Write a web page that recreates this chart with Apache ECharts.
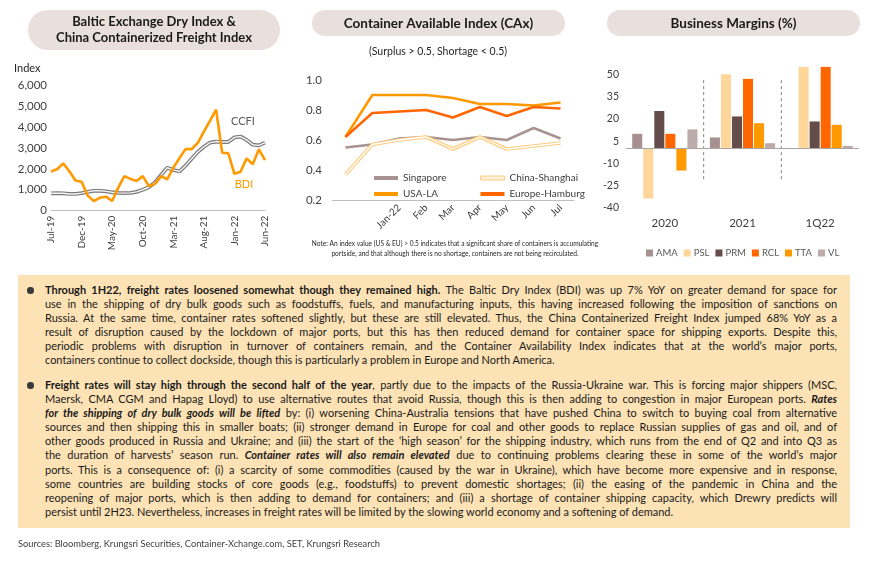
<!DOCTYPE html>
<html><head><meta charset="utf-8">
<script src="https://cdn.jsdelivr.net/npm/echarts@6/dist/echarts.min.js"></script>
<style>
html,body{margin:0;padding:0;background:#fff;}
#chart{position:absolute;left:0;top:0;width:870px;height:562px;}
#box{position:absolute;left:18px;top:275px;width:832px;height:253px;background:#FDE2B5;font-family:Lato,sans-serif;color:#1a1a1a;}
.para{position:absolute;left:27px;width:792px;}
.ln{height:14.1px;line-height:14.1px;white-space:nowrap;font-size:11px;}
.ln.j{text-align:justify;text-align-last:justify;}
.dot{position:absolute;left:-18px;top:4.3px;width:6.5px;height:6.5px;border-radius:50%;background:#3a3a3a;}
#src{position:absolute;left:18px;top:538px;font-family:Lato,sans-serif;font-size:9.3px;line-height:12px;color:#404040;white-space:nowrap;}
</style></head>
<body>
<div id="chart"></div>
<div id="box">
 <div class="para" style="top:8px;">
  <div class="dot"></div>
  <div class="ln j"><span><b>Through 1H22, freight rates loosened somewhat though they remained high.</b> The Baltic Dry Index (BDI) was up 7% YoY on greater demand for space for</span></div>
  <div class="ln j"><span>use in the shipping of dry bulk goods such as foodstuffs, fuels, and manufacturing inputs, this having increased following the imposition of sanctions on</span></div>
  <div class="ln j"><span>Russia. At the same time, container rates softened slightly, but these are still elevated. Thus, the China Containerized Freight Index jumped 68% YoY as a</span></div>
  <div class="ln j"><span>result of disruption caused by the lockdown of major ports, but this has then reduced demand for container space for shipping exports. Despite this,</span></div>
  <div class="ln j"><span>periodic problems with disruption in turnover of containers remain, and the Container Availability Index indicates that at the world’s major ports,</span></div>
  <div class="ln"><span>containers continue to collect dockside, though this is particularly a problem in Europe and North America.</span></div>
 </div>
 <div class="para" style="top:103px;">
  <div class="dot"></div>
  <div class="ln j"><span><b>Freight rates will stay high through the second half of the year</b>, partly due to the impacts of the Russia-Ukraine war. This is forcing major shippers (MSC,</span></div>
  <div class="ln j"><span>Maersk, CMA CGM and Hapag Lloyd) to use alternative routes that avoid Russia, though this is then adding to congestion in major European ports. <b><i>Rates</i></b></span></div>
  <div class="ln j"><span><b><i>for the shipping of dry bulk goods will be lifted</i></b> by: (i) worsening China-Australia tensions that have pushed China to switch to buying coal from alternative</span></div>
  <div class="ln j"><span>sources and then shipping this in smaller boats; (ii) stronger demand in Europe for coal and other goods to replace Russian supplies of gas and oil, and of</span></div>
  <div class="ln j"><span>other goods produced in Russia and Ukraine; and (iii) the start of the ‘high season’ for the shipping industry, which runs from the end of Q2 and into Q3 as</span></div>
  <div class="ln j"><span>the duration of harvests’ season run. <b><i>Container rates will also remain elevated</i></b> due to continuing problems clearing these in some of the world’s major</span></div>
  <div class="ln j"><span>ports. This is a consequence of: (i) a scarcity of some commodities (caused by the war in Ukraine), which have become more expensive and in response,</span></div>
  <div class="ln j"><span>some countries are building stocks of core goods (e.g., foodstuffs) to prevent domestic shortages; (ii) the easing of the pandemic in China and the</span></div>
  <div class="ln j"><span>reopening of major ports, which is then adding to demand for containers; and (iii) a shortage of container shipping capacity, which Drewry predicts will</span></div>
  <div class="ln"><span>persist until 2H23. Nevertheless, increases in freight rates will be limited by the slowing world economy and a softening of demand.</span></div>
 </div>
</div>
<div id="src">Sources: Bloomberg, Krungsri Securities, Container-Xchange.com, SET, Krungsri Research</div>
<script>
// ---- Data: Baltic Dry Index & CCFI ----
const months = ['Jul-19','Aug-19','Sep-19','Oct-19','Nov-19','Dec-19','Jan-20','Feb-20','Mar-20','Apr-20','May-20','Jun-20',
  'Jul-20','Aug-20','Sep-20','Oct-20','Nov-20','Dec-20','Jan-21','Feb-21','Mar-21','Apr-21','May-21','Jun-21',
  'Jul-21','Aug-21','Sep-21','Oct-21','Nov-21','Dec-21','Jan-22','Feb-22','Mar-22','Apr-22','May-22','Jun-22'];
const bdiValues = [1870,1980,2260,1880,1440,1380,720,460,620,670,460,1100,1650,1520,1420,1650,1180,1280,1650,1500,2050,2500,2940,2940,3230,3770,4290,4820,2770,2740,1760,1860,2500,2220,2930,2410];
const ccfiValues = [830,840,830,800,800,840,900,950,950,920,880,850,840,850,900,1000,1120,1350,1700,2050,1950,1870,2150,2480,2800,3050,3250,3300,3280,3280,3500,3540,3380,3150,3120,3250];
const leftTicks = [0,1000,2000,3000,4000,5000,6000];

// ---- Data: Container Availability Index ----
const caxMonths = ['Nov-21','Dec-21','Jan-22','Feb','Mar','Apr','May','Jun','Jul'];
const singapore = [0.55,0.57,0.61,0.62,0.60,0.62,0.60,0.68,0.61];
const chinaShanghai = [0.37,0.57,0.60,0.62,0.54,0.62,0.54,0.56,0.58];
const usaLA = [0.62,0.90,0.90,0.90,0.88,0.84,0.84,0.83,0.85];
const europeHamburg = [0.62,0.78,0.79,0.80,0.75,0.82,0.76,0.82,0.81];
const caxTicks = [0.2,0.4,0.6,0.8,1.0];

// ---- Data: Business margins (%) ----
const marginCats = ['2020','2021','1Q22'];
const companies = ['AMA','PSL','PRM','RCL','TTA','VL'];
const ama = [10,7.5,null];
const psl = [-34,50.5,55.5];
const prm = [25.5,21.8,18.4];
const rcl = [10,47.4,55.5];
const tta = [-15,17.2,16.1];
const vl = [13,3.6,1.8];
const marginTicks = [-40,-25,-10,5,20,35,50];

// ---- fit body text lines ----
(function(){
  let maxW = 0;
  document.querySelectorAll('.ln.j span').forEach(s=>{ maxW = Math.max(maxW, s.getBoundingClientRect().width); });
  const fs = 11 * Math.min(1.06, 790 / maxW);
  document.querySelectorAll('.ln').forEach(l=>{ l.style.fontSize = fs.toFixed(2)+'px'; });
})();

const FONT = 'Lato, sans-serif';
const marginSeries = [ama,psl,prm,rcl,tta,vl];
const marginColors = ['#A69190','#FFD699','#634C49','#FF6600','#FF9900','#BCABA9'];
const chart = echarts.init(document.getElementById('chart'), null, {renderer:'canvas'});

function pill(id, x, y, w, h, text, cy, fs){
  return [
    {id:id+'r', type:'rect', shape:{x:x,y:y,width:w,height:h,r:h/2}, style:{fill:'#E9DFDD'}, z:1},
    {id:id+'t', type:'text', x:x+w/2, y:cy, style:{text:text, align:'center', verticalAlign:'middle', fontFamily:FONT, fontWeight:'bold', fontSize:fs, lineHeight:16, fill:'#1a1a1a'}, z:2}
  ];
}
const txt = (id,x,y,text,fs,color,align,extra)=>Object.assign({id:id,type:'text',x:x,y:y,style:Object.assign({text:text,align:align||'left',verticalAlign:'middle',fontFamily:FONT,fontSize:fs,fill:color},extra||{})});

const baseGraphics = [
  ...pill('p1',28,10,252,40,'Baltic Exchange Dry Index &\nChina Containerized Freight Index',30,13),
  ...pill('p2',312,10,253,26,'Container Available Index (CAx)',23.5,13.5),
  ...pill('p3',607,10,253,26,'Business Margins (%)',23.5,13.5),
  txt('idx',14,68,'Index',11,'#262626'),
  txt('ccfiL',243,121,'CCFI',11,'#595959','center'),
  txt('bdiL',244,184,'BDI',11,'#FF9900','center'),
  txt('sub',438,51.5,'(Surplus > 0.5, Shortage < 0.5)',10.5,'#262626','center'),
  txt('n1',455,244.3,'Note: An index value (US & EU) > 0.5 indicates that a significant share of containers is accumulating',6.6,'#262626','center'),
  txt('n2',455,253.5,'portside, and that although there is no shortage, containers are not being recirculated.',6.6,'#262626','center')
];

const axisLabelBase = {color:'#404040', fontFamily:FONT};
const option = {
  animation:false,
  textStyle:{fontFamily:FONT},
  grid:[
    {left:51, top:85, width:214, height:125.7},
    {left:332, top:80, width:242, height:120},
    {left:626, top:60.3, width:233, height:147}
  ],
  xAxis:[
    {gridIndex:0, type:'category', data:months, boundaryGap:false,
     axisLine:{lineStyle:{color:'#BFBFBF',width:1}}, axisTick:{show:false},
     axisLabel:Object.assign({interval:4, rotate:90, fontSize:10, margin:5}, axisLabelBase)},
    {gridIndex:1, type:'category', data:caxMonths, boundaryGap:true,
     axisLine:{lineStyle:{color:'#BFBFBF',width:1}}, axisTick:{show:false},
     axisLabel:Object.assign({interval:0, rotate:45, fontSize:10, margin:6, formatter:(v,i)=> i<2 ? '' : v}, axisLabelBase)},
    {gridIndex:2, type:'category', data:marginCats, axisLine:{show:false}, axisTick:{show:false},
     axisLabel:Object.assign({fontSize:11.5, margin:10}, axisLabelBase)}
  ],
  yAxis:[
    {gridIndex:0, type:'value', min:0, max:6000, splitLine:{show:false}, axisLine:{show:false}, axisTick:{show:false},
     axisLabel:Object.assign({customValues:leftTicks, fontSize:11.5, margin:4, formatter:v=>v.toLocaleString('en-US')}, axisLabelBase)},
    {gridIndex:1, type:'value', min:0.2, max:1.0, splitLine:{show:false}, axisLine:{show:false}, axisTick:{show:false},
     axisLabel:Object.assign({customValues:caxTicks, fontSize:11.5, margin:10, formatter:v=>v.toFixed(1)}, axisLabelBase)},
    {gridIndex:2, type:'value', min:-40, max:60, splitLine:{show:false}, axisLine:{show:false}, axisTick:{show:false},
     axisLabel:Object.assign({customValues:marginTicks, fontSize:10.5, margin:7}, axisLabelBase)}
  ],
  legend:[
    {data:['Singapore','USA-LA'], orient:'vertical', left:369, top:167, icon:'rect', itemWidth:24, itemHeight:4, itemGap:4,
     textStyle:{fontSize:10, color:'#404040', lineHeight:12, fontFamily:FONT}},
    {data:[{name:'China-Shanghai', itemStyle:{color:'#FFF1DC', borderColor:'#FFCC80', borderWidth:1}},'Europe-Hamburg'], orient:'vertical', left:475, top:167, icon:'rect', itemWidth:24, itemHeight:4, itemGap:4,
     textStyle:{fontSize:10, color:'#404040', lineHeight:12, fontFamily:FONT}},
    {data:companies, orient:'horizontal', left:641, top:243, width:228, icon:'rect', itemWidth:7, itemHeight:7, itemGap:6,
     textStyle:{fontSize:9.5, color:'#595959', fontFamily:FONT, padding:[0,0,0,-2]}}
  ],
  series:[
    {name:'CCFI', type:'line', xAxisIndex:0, yAxisIndex:0, data:ccfiValues, symbol:'none', lineStyle:{color:'#7A7A7A', width:3.8}, itemStyle:{color:'#7A7A7A'}, z:2},
    {name:'CCFI core', type:'line', xAxisIndex:0, yAxisIndex:0, data:ccfiValues, symbol:'none', silent:true, lineStyle:{color:'#F4F4F4', width:1.4}, z:3},
    {name:'BDI', type:'line', xAxisIndex:0, yAxisIndex:0, data:bdiValues, symbol:'none', lineStyle:{color:'#FF9900', width:2.6}, itemStyle:{color:'#FF9900'}, z:4},

    {name:'Singapore', type:'line', xAxisIndex:1, yAxisIndex:1, data:singapore, symbol:'none', lineStyle:{color:'#A89292', width:2.5}, itemStyle:{color:'#A89292'}, z:2},
    {name:'China-Shanghai', type:'line', xAxisIndex:1, yAxisIndex:1, data:chinaShanghai, symbol:'none', lineStyle:{color:'#FFCC80', width:3.6}, itemStyle:{color:'#FFCC80'}, z:2},
    {name:'China-Shanghai core', type:'line', xAxisIndex:1, yAxisIndex:1, data:chinaShanghai, symbol:'none', silent:true, lineStyle:{color:'#FFFFFF', width:1.3}, z:3},
    {name:'USA-LA', type:'line', xAxisIndex:1, yAxisIndex:1, data:usaLA, symbol:'none', lineStyle:{color:'#FF9900', width:2.6}, itemStyle:{color:'#FF9900'}, z:4},
    {name:'Europe-Hamburg', type:'line', xAxisIndex:1, yAxisIndex:1, data:europeHamburg, symbol:'none', lineStyle:{color:'#FF6600', width:2.5}, itemStyle:{color:'#FF6600'}, z:5},

    ...companies.map((c,i)=>({
      name:c, type:'bar', xAxisIndex:2, yAxisIndex:2, data:marginSeries[i], barGap:'10%', barCategoryGap:'16%',
      itemStyle:{color:marginColors[i]},
      markLine: i===0 ? {silent:true, symbol:'none', label:{show:false}, lineStyle:{color:'#A6A6A6', type:'solid', width:1}, data:[{yAxis:0}]} : undefined
    }))
  ],
  graphic:{elements:baseGraphics}
};
chart.setOption(option);

// dashed separators between the margin groups, placed through the axis scales
const cx = marginCats.map((c,i)=>chart.convertToPixel({xAxisIndex:2}, i));
const yTop = chart.convertToPixel({yAxisIndex:2}, 46.5);
const yBot = chart.convertToPixel({yAxisIndex:2}, -21.5);
const seps = [0,1].map(i=>({id:'sep'+i, type:'line', shape:{x1:(cx[i]+cx[i+1])/2, y1:yTop, x2:(cx[i]+cx[i+1])/2, y2:yBot},
  style:{stroke:'#7F7F7F', lineWidth:1, lineDash:[3,3]}, z:1}));
chart.setOption({graphic:{elements:baseGraphics.concat(seps)}});
</script>
</body></html>
